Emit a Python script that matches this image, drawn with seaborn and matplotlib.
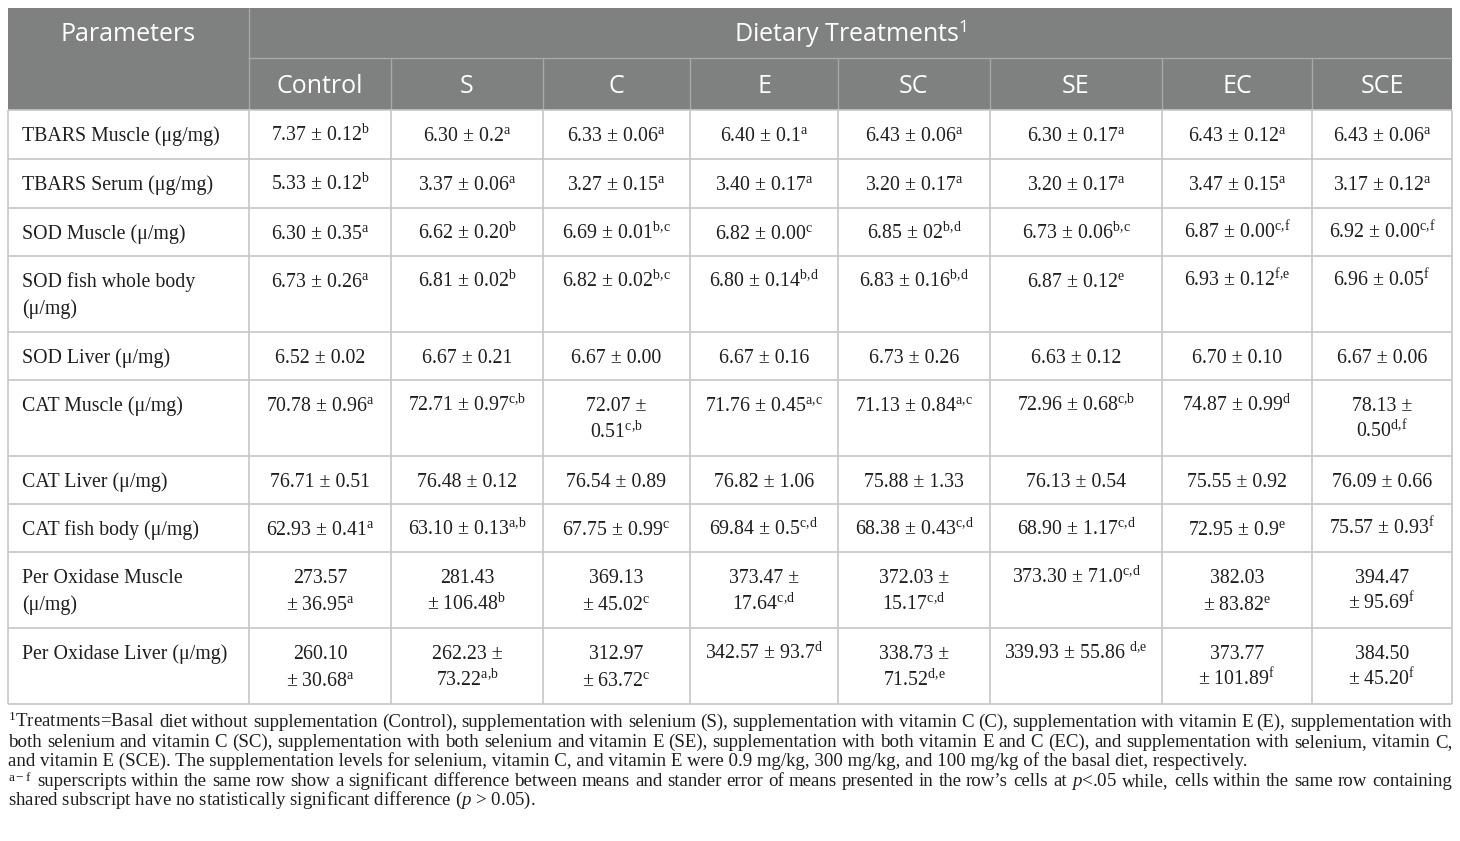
import matplotlib
matplotlib.use("Agg")
import matplotlib.pyplot as plt
import seaborn as sns

sns.set_theme(style="white")
plt.rcParams['font.family'] = ['Liberation Serif', 'DejaVu Serif']
plt.rcParams['mathtext.fontset'] = 'custom'
plt.rcParams['mathtext.rm'] = 'Liberation Serif'
plt.rcParams['mathtext.it'] = 'Liberation Serif:italic'
plt.rcParams['mathtext.bf'] = 'Liberation Serif:bold'

# ---------------- data ----------------
treatments = ["Control", "S", "C", "E", "SC", "SE", "EC", "SCE"]
header_left = "Parameters"
header_top = "Dietary Treatments"
parameters = ["TBARS Muscle (μg/mg)", "TBARS Serum (μg/mg)", "SOD Muscle (μ/mg)",
              "SOD fish whole body\n(μ/mg)", "SOD Liver (μ/mg)", "CAT Muscle (μ/mg)",
              "CAT Liver (μ/mg)", "CAT fish body (μ/mg)", "Per Oxidase Muscle\n(μ/mg)",
              "Per Oxidase Liver (μ/mg)"]

tbars_muscle = ["7.37 ± 0.12", "6.30 ± 0.2", "6.33 ± 0.06", "6.40 ± 0.1", "6.43 ± 0.06",
                "6.30 ± 0.17", "6.43 ± 0.12", "6.43 ± 0.06"]
tbars_muscle_sup = ["b", "a", "a", "a", "a", "a", "a", "a"]
tbars_serum = ["5.33 ± 0.12", "3.37 ± 0.06", "3.27 ± 0.15", "3.40 ± 0.17", "3.20 ± 0.17",
               "3.20 ± 0.17", "3.47 ± 0.15", "3.17 ± 0.12"]
tbars_serum_sup = ["b", "a", "a", "a", "a", "a", "a", "a"]
sod_muscle = ["6.30 ± 0.35", "6.62 ± 0.20", "6.69 ± 0.01", "6.82 ± 0.00", "6.85 ± 02",
              "6.73 ± 0.06", "6.87 ± 0.00", "6.92 ± 0.00"]
sod_muscle_sup = ["a", "b", "b,c", "c", "b,d", "b,c", "c,f", "c,f"]
sod_body = ["6.73 ± 0.26", "6.81 ± 0.02", "6.82 ± 0.02", "6.80 ± 0.14", "6.83 ± 0.16",
            "6.87 ± 0.12", "6.93 ± 0.12", "6.96 ± 0.05"]
sod_body_sup = ["a", "b", "b,c", "b,d", "b,d", "e", "f,e", "f"]
sod_liver = ["6.52 ± 0.02", "6.67 ± 0.21", "6.67 ± 0.00", "6.67 ± 0.16", "6.73 ± 0.26",
             "6.63 ± 0.12", "6.70 ± 0.10", "6.67 ± 0.06"]
sod_liver_sup = ["", "", "", "", "", "", "", ""]
cat_muscle = ["70.78 ± 0.96", "72.71 ± 0.97", "72.07 ±\n0.51", "71.76 ± 0.45", "71.13 ± 0.84",
              "72.96 ± 0.68", "74.87 ± 0.99", "78.13 ±\n0.50"]
cat_muscle_sup = ["a", "c,b", "c,b", "a,c", "a,c", "c,b", "d", "d,f"]
cat_liver = ["76.71 ± 0.51", "76.48 ± 0.12", "76.54 ± 0.89", "76.82 ± 1.06", "75.88 ± 1.33",
             "76.13 ± 0.54", "75.55 ± 0.92", "76.09 ± 0.66"]
cat_liver_sup = ["", "", "", "", "", "", "", ""]
cat_body = ["62.93 ± 0.41", "63.10 ± 0.13", "67.75 ± 0.99", "69.84 ± 0.5", "68.38 ± 0.43",
            "68.90 ± 1.17", "72.95 ± 0.9", "75.57 ± 0.93"]
cat_body_sup = ["a", "a,b", "c", "c,d", "c,d", "c,d", "e", "f"]
perox_muscle = ["273.57\n± 36.95", "281.43\n± 106.48", "369.13\n± 45.02", "373.47 ±\n17.64",
                "372.03 ±\n15.17", "373.30 ± 71.0", "382.03\n± 83.82", "394.47\n± 95.69"]
perox_muscle_sup = ["a", "b", "c", "c,d", "c,d", "c,d", "e", "f"]
perox_liver = ["260.10\n± 30.68", "262.23 ±\n73.22", "312.97\n± 63.72", "342.57 ± 93.7",
               "338.73 ±\n71.52", "339.93 ± 55.86 ", "373.77\n± 101.89", "384.50\n± 45.20"]
perox_liver_sup = ["a", "a,b", "c", "d", "d,e", "d,e", "f", "f"]

rows = [tbars_muscle, tbars_serum, sod_muscle, sod_body, sod_liver,
        cat_muscle, cat_liver, cat_body, perox_muscle, perox_liver]
rows_sup = [tbars_muscle_sup, tbars_serum_sup, sod_muscle_sup, sod_body_sup, sod_liver_sup,
            cat_muscle_sup, cat_liver_sup, cat_body_sup, perox_muscle_sup, perox_liver_sup]

footnote_lines = [
    "$^{\\mathdefault{1}}$Treatments=Basal diet without supplementation (Control), supplementation with selenium (S), supplementation with vitamin C (C), supplementation with vitamin E (E), supplementation with",
    "both selenium and vitamin C (SC), supplementation with both selenium and vitamin E (SE), supplementation with both vitamin E and C (EC), and supplementation with selenium, vitamin C,",
    "and vitamin E (SCE). The supplementation levels for selenium, vitamin C, and vitamin E were 0.9 mg/kg, 300 mg/kg, and 100 mg/kg of the basal diet, respectively.",
    "$^{\\mathdefault{a-f}}$ superscripts within the same row show a significant difference between means and stander error of means presented in the row’s cells at $\\mathit{p}$<.05 while, cells within the same row containing",
    "shared subscript have no statistically significant difference ($\\mathit{p}$ > 0.05).",
]
footnote_justify = [True, True, False, True, False]

# ---------------- layout ----------------
W, H = 1460, 841
col_edges = [8, 249, 391, 543, 690, 838, 990, 1162, 1312, 1452]
head_edges = [8, 58, 110]
row_edges = [110, 159, 208, 256, 332, 380, 456, 504, 552, 628, 704]
head_bg = "#7f8180"
head_line = "#a7a9a8"
grid_col = "#c6c6c6"
text_col = "#1e1e1e"
body_size = 14.3
head_size = 18
foot_size = 13.6
base_off = 31
line_gap = 27

fig = plt.figure(figsize=(W / 100, H / 100), dpi=100)
ax = fig.add_axes([0, 0, 1, 1])
ax.set_xlim(0, W)
ax.set_ylim(H, 0)
ax.axis("off")

# header background
ax.add_patch(plt.Rectangle((col_edges[0], head_edges[0]), col_edges[-1] - col_edges[0],
                           head_edges[-1] - head_edges[0], color=head_bg, lw=0, zorder=0))
ax.hlines(head_edges[1], col_edges[1], col_edges[-1], color=head_line, lw=1, zorder=1)
ax.vlines(col_edges[1], head_edges[0], head_edges[-1], color=head_line, lw=1, zorder=1)
ax.vlines(col_edges[2:-1], head_edges[1], head_edges[-1], color=head_line, lw=1, zorder=1)

# body grid
ax.hlines(row_edges, col_edges[0], col_edges[-1], color=grid_col, lw=1.2, zorder=1)
ax.vlines(col_edges, row_edges[0], row_edges[-1], color=grid_col, lw=1.2, zorder=1)

# header text
hfont = ['Open Sans', 'DejaVu Sans']
ax.text((col_edges[0] + col_edges[1]) / 2, head_edges[0] + 33, header_left, color="white",
        fontsize=head_size, family=hfont, ha="center", va="baseline")
ax.text((col_edges[1] + col_edges[-1]) / 2, head_edges[0] + 33,
        header_top + "$^{\\mathdefault{1}}$", color="white",
        fontsize=head_size, family=hfont, ha="center", va="baseline")
for j, t in enumerate(treatments):
    ax.text((col_edges[j + 1] + col_edges[j + 2]) / 2, head_edges[1] + 35, t, color="white",
            fontsize=head_size, family=hfont, ha="center", va="baseline")

# body text
for i, (vals, sups) in enumerate(zip(rows, rows_sup)):
    top = row_edges[i]
    plines = parameters[i].split("\n")
    for k, pl in enumerate(plines):
        ax.text(col_edges[0] + 14, top + base_off + k * line_gap, pl, fontsize=body_size,
                color=text_col, ha="left", va="baseline")
    for j, (v, s) in enumerate(zip(vals, sups)):
        cx = (col_edges[j + 1] + col_edges[j + 2]) / 2
        vlines = v.split("\n")
        for k, vl in enumerate(vlines):
            txt = vl
            if k == len(vlines) - 1 and s:
                txt = vl + "$^{\\mathdefault{" + s.replace(",", "{,}") + "}}$"
            ax.text(cx, top + base_off + k * line_gap, txt, fontsize=body_size,
                    color=text_col, ha="center", va="baseline")

# footnotes (justified lines laid out word by word)
renderer = fig.canvas.get_renderer()
fy0 = 727
fgap = 19.6
for k, (line, just) in enumerate(zip(footnote_lines, footnote_justify)):
    y = round(fy0 + k * fgap)
    if not just:
        ax.text(col_edges[0], y, line, fontsize=foot_size, color=text_col,
                ha="left", va="baseline")
        continue
    words = line.split(" ")
    size = foot_size
    while True:
        texts = [ax.text(0, y, w, fontsize=size, color=text_col, ha="left",
                         va="baseline") for w in words]
        widths = [t.get_window_extent(renderer).width for t in texts]
        gap = (col_edges[-1] - col_edges[0] - sum(widths)) / (len(words) - 1)
        if gap >= 2.5 or size < 9:
            break
        for t in texts:
            t.remove()
        size -= 0.2
    x = col_edges[0]
    for t, wd in zip(texts, widths):
        t.set_x(round(x))
        x += wd + gap

fig.savefig("out.png", dpi=100, facecolor="white")
